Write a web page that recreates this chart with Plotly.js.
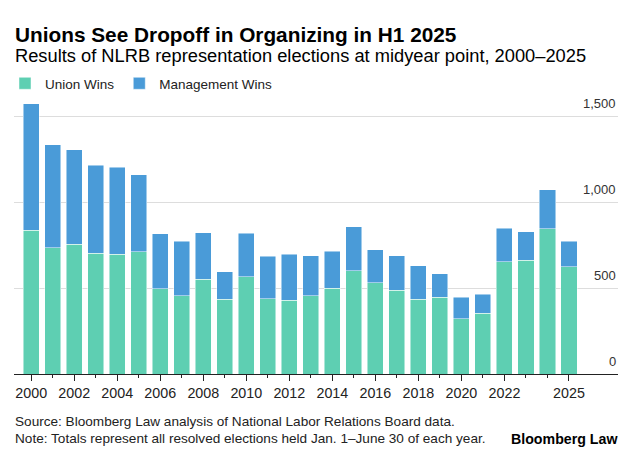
<!DOCTYPE html>
<html>
<head>
<meta charset="utf-8">
<script src="https://cdn.plot.ly/plotly-3.0.1.min.js"></script>
<style>html,body{margin:0;padding:0;background:#fff;}#chart{width:633px;height:461px;}</style>
</head>
<body>
<div id="chart"></div>
<script>
const years = [2000,2001,2002,2003,2004,2005,2006,2007,2008,2009,2010,2011,2012,2013,2014,2015,2016,2017,2018,2019,2020,2021,2022,2023,2024,2025];
const unionWins = [836,735,756,704,698,711,496,456,550,435,567,438,429,456,498,602,531,488,435,446,321,354,654,663,844,625];
const totalElections = [1573,1333,1306,1215,1204,1160,815,773,823,594,819,685,698,687,715,858,723,687,629,583,446,463,848,827,1071,771];
const managementWins = totalElections.map((t, i) => t - unionWins[i]);
const xTickVals = [2000,2002,2004,2006,2008,2010,2012,2014,2016,2018,2020,2022,2025];
const xTickText = ["2000","2002","2004","2006","2008","2010","2012","2014","2016","2018","2020","2022","2025"];
const yTickVals = [0,500,1000,1500];
const yTickText = ["0","500","1,000","1,500"];

const FONT = "Liberation Sans, Arial, sans-serif";
const W = 633, H = 461, L = 14, R = 15, T = 97, B = 86.7;
const plotH = H - T - B;
const py = (px) => (H - B - px) / plotH;

const traces = [
  {type: "bar", name: "Union Wins", x: years, y: unionWins,
   marker: {color: "#5ecfb2", line: {color: "rgba(255,255,255,0.6)", width: 0.8}},
   hoverinfo: "x+y"},
  {type: "bar", name: "Management Wins", x: years, y: managementWins,
   marker: {color: "#4a9bd8", line: {color: "rgba(255,255,255,0.6)", width: 0.8}},
   hoverinfo: "x+y"}
];

const annotations = yTickVals.map((v, i) => ({
  xref: "paper", yref: "y", x: 1, y: v, xanchor: "right", yanchor: "bottom",
  yshift: 3, text: yTickText[i], showarrow: false,
  font: {family: FONT, size: 13, color: "#333"}
}));
annotations.push(
  {xref: "paper", yref: "paper", x: -0.002, y: py(31.5), xanchor: "left", yanchor: "middle",
   text: "<b>Unions See Dropoff in Organizing in H1 2025</b>", showarrow: false,
   font: {family: FONT, size: 20.8, color: "#000"}},
  {xref: "paper", yref: "paper", x: -0.002, y: py(53.5), xanchor: "left", yanchor: "middle",
   text: "Results of NLRB representation elections at midyear point, 2000–2025", showarrow: false,
   font: {family: FONT, size: 18.3, color: "#000"}},
  {xref: "paper", yref: "paper", x: -0.001, y: py(422.5), xanchor: "left", yanchor: "middle",
   text: "Source: Bloomberg Law analysis of National Labor Relations Board data.", showarrow: false,
   font: {family: FONT, size: 13.6, color: "#222"}},
  {xref: "paper", yref: "paper", x: -0.001, y: py(439.5), xanchor: "left", yanchor: "middle",
   text: "Note: Totals represent all resolved elections held Jan. 1–June 30 of each year.", showarrow: false,
   font: {family: FONT, size: 13.6, color: "#222"}},
  {xref: "paper", yref: "paper", x: 1.004, y: py(439.5), xanchor: "right", yanchor: "middle",
   text: "<b>Bloomberg Law</b>", showarrow: false,
   font: {family: FONT, size: 14.2, color: "#000"}}
);

const layout = {
  width: W, height: H,
  margin: {l: L, r: R, t: T, b: B, pad: 0},
  paper_bgcolor: "#fff", plot_bgcolor: "#fff",
  barmode: "stack", bargap: 0.25,
  showlegend: true,
  legend: {orientation: "h", xref: "container", yref: "container",
    x: 5 / W, y: 1 - 83.5 / H, xanchor: "left", yanchor: "middle",
    font: {family: FONT, size: 13.5, color: "#222"}, traceorder: "normal",
    itemwidth: 30, bgcolor: "rgba(0,0,0,0)"},
  xaxis: {range: [1999.2, 2027.28], tickvals: xTickVals, ticktext: xTickText,
    ticks: "outside", ticklen: 6, tickcolor: "#222", tickwidth: 1,
    minor: {tickmode: "array", tickvals: years, ticks: "outside", ticklen: 3, tickcolor: "#222", tickwidth: 1, showgrid: false},
    showline: true, linecolor: "#222", linewidth: 1.2, showgrid: false, zeroline: false,
    tickfont: {family: FONT, size: 14.3, color: "#222"}, fixedrange: true},
  yaxis: {range: [0, 1600], tickvals: yTickVals, showticklabels: false,
    showgrid: true, gridcolor: "#dddddd", gridwidth: 1, zeroline: false,
    fixedrange: true},
  annotations: annotations,
  font: {family: FONT}
};

Plotly.newPlot("chart", traces, layout, {displayModeBar: false, staticPlot: true});
</script>
</body>
</html>
